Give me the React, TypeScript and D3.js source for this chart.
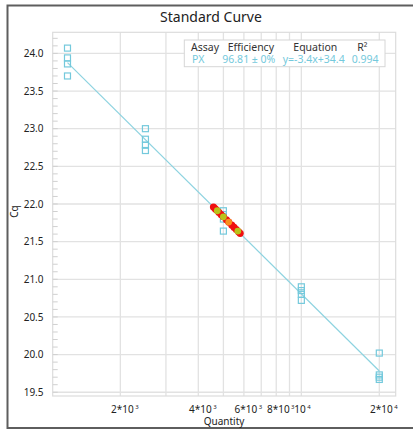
import React from "react";
import * as d3 from "d3";

const title = "Standard Curve";
const xAxisTitle = "Quantity";
const yAxisTitle = "Cq";

const stdQuantities = [1250, 2500, 5000, 10000, 20000];
const stdCq = [
  [24.07, 23.94, 23.86, 23.7],
  [23.0, 22.86, 22.78, 22.71],
  [21.91, 21.86, 21.8, 21.64],
  [20.9, 20.85, 20.8, 20.72],
  [20.02, 19.73, 19.7, 19.67],
];

const fitSlope = -3.401;
const fitIntercept = 34.41;

const unknownRedCq = [21.96, 21.94, 21.92, 21.89, 21.86, 21.83, 21.79, 21.76, 21.72, 21.69, 21.66, 21.63, 21.61];
const unknownYellowCq = [21.91, 21.83, 21.64];
const unknownOrangeCq = [21.76];

const xGridValues = [2000, 3000, 4000, 5000, 6000, 7000, 8000, 9000, 10000, 20000];
const xTickLabels = [
  { v: 2000, base: "2*10", exp: "3" },
  { v: 4000, base: "4*10", exp: "3" },
  { v: 6000, base: "6*10", exp: "3" },
  { v: 8000, base: "8*10", exp: "3" },
  { v: 10000, base: "10", exp: "4" },
  { v: 20000, base: "2*10", exp: "4" },
];
const yTickValues = [19.5, 20.0, 20.5, 21.0, 21.5, 22.0, 22.5, 23.0, 23.5, 24.0];

const legendHeaders = ["Assay", "Efficiency", "Equation", "R²"];
const legendRow = ["PX", "96.81 ± 0%", "y=-3.4x+34.4", "0.994"];

const FONT = "'Noto Sans', 'DejaVu Sans', sans-serif";
const STD_COLOR = "#74c9dc";
const LINE_COLOR = "#8dd3e0";
const GRID = "#e2e2e2";

export default function App() {
  const W = 413;
  const H = 430;
  const left = 52.7, right = 395.7, top = 32.3, bottom = 396;
  const x = d3.scaleLog().domain([1096, 23140]).range([left, right]);
  const y = d3.scaleLinear().domain([19.45, 24.28]).range([bottom, top]);

  const fit = (q: number) => fitSlope * Math.log10(q) + fitIntercept;
  const qFromCq = (c: number) => Math.pow(10, (c - fitIntercept) / fitSlope);
  const lineGen = d3
    .line<number>()
    .x((q) => x(q))
    .y((q) => y(fit(q)));
  const lineQs = [stdQuantities[0], stdQuantities[stdQuantities.length - 1]];

  const minorTicks = d3.range(195, 243, 1).map((v) => v / 10);

  const legendX = [191, 227.7, 293.3, 357.3];
  const legendRowX = [192, 222.3, 282.7, 351.7];

  return (
    <svg
      width={W}
      height={H}
      style={{ position: "absolute", left: 0, top: 0, background: "#fff" }}
      fontFamily={FONT}
    >
      <rect x={0} y={0} width={W} height={H} fill="#fff" />
      {/* frame */}
      <rect x={7.5} y={5.5} width={W + 10} height={422.5} fill="none" stroke="#5e5e5e" strokeWidth={2} />
      <text x={211} y={22.3} textAnchor="middle" fontSize={14} fill="#222">
        {title}
      </text>

      {/* grid */}
      {xGridValues.map((v) => (
        <line key={"gx" + v} x1={x(v)} x2={x(v)} y1={top} y2={bottom} stroke={GRID} strokeWidth={1.3} />
      ))}
      {yTickValues.map((v) => (
        <line key={"gy" + v} x1={left} x2={right} y1={y(v)} y2={y(v)} stroke={GRID} strokeWidth={1.3} />
      ))}
      <rect x={left} y={top} width={right - left} height={bottom - top} fill="none" stroke="#dcdcdc" strokeWidth={1.2} />
      {/* minor ticks */}
      {minorTicks.map((v) => (
        <line key={"mt" + v} x1={left} x2={left + 5} y1={y(v)} y2={y(v)} stroke="#d0d0d0" strokeWidth={1} />
      ))}

      {/* y labels */}
      {yTickValues.map((v) => (
        <text key={"yl" + v} x={43.5} y={y(v) + 3.6} textAnchor="end" fontSize={10} fill="#222">
          {v.toFixed(1)}
        </text>
      ))}
      <text transform={`translate(17.5,211.5) rotate(-90)`} textAnchor="middle" fontSize={10} fill="#222">
        {yAxisTitle}
      </text>

      {/* x labels */}
      {xTickLabels.map((t) => (
        <text
          key={"xl" + t.v}
          x={x(t.v) - (t.base.length > 2 ? 9.3 : 7)}
          y={413.3}
          fontSize={10}
          fill="#222"
        >
          {t.base}
          <tspan dx={1.5} dy={-4} fontSize={6}>
            {t.exp}
          </tspan>
        </text>
      ))}
      <text x={224} y={425} textAnchor="middle" fontSize={10} fill="#222">
        {xAxisTitle}
      </text>

      {/* regression line */}
      <path d={lineGen(lineQs) || ""} fill="none" stroke={LINE_COLOR} strokeWidth={1.2} />

      {/* standards */}
      {stdQuantities.map((q, i) =>
        stdCq[i].map((c, j) => (
          <rect
            key={`s${i}-${j}`}
            x={x(q) - 3}
            y={y(c) - 3}
            width={6}
            height={6}
            fill="none"
            stroke={STD_COLOR}
            strokeWidth={1.2}
          />
        ))
      )}

      {/* unknowns */}
      {unknownRedCq.map((c, i) => (
        <circle key={"ur" + i} cx={x(qFromCq(c))} cy={y(c)} r={3.6} fill="#f01010" />
      ))}
      {unknownOrangeCq.map((c, i) => (
        <circle key={"uo" + i} cx={x(qFromCq(c))} cy={y(c)} r={3.4} fill="#f7901e" />
      ))}
      {unknownYellowCq.map((c, i) => (
        <circle key={"uy" + i} cx={x(qFromCq(c))} cy={y(c)} r={3.4} fill="#b9c21a" />
      ))}

      {/* legend */}
      <rect x={184.3} y={40} width={200.7} height={26.7} fill="#fff" stroke="#d6d6d6" strokeWidth={1} />
      {legendHeaders.map((h, i) => (
        <text key={"lh" + i} x={legendX[i]} y={50.5} fontSize={10.5} fill="#333">
          {h}
        </text>
      ))}
      {legendRow.map((h, i) => (
        <text key={"lr" + i} x={legendRowX[i]} y={63.3} fontSize={10.5} fill={STD_COLOR}>
          {h}
        </text>
      ))}
    </svg>
  );
}
